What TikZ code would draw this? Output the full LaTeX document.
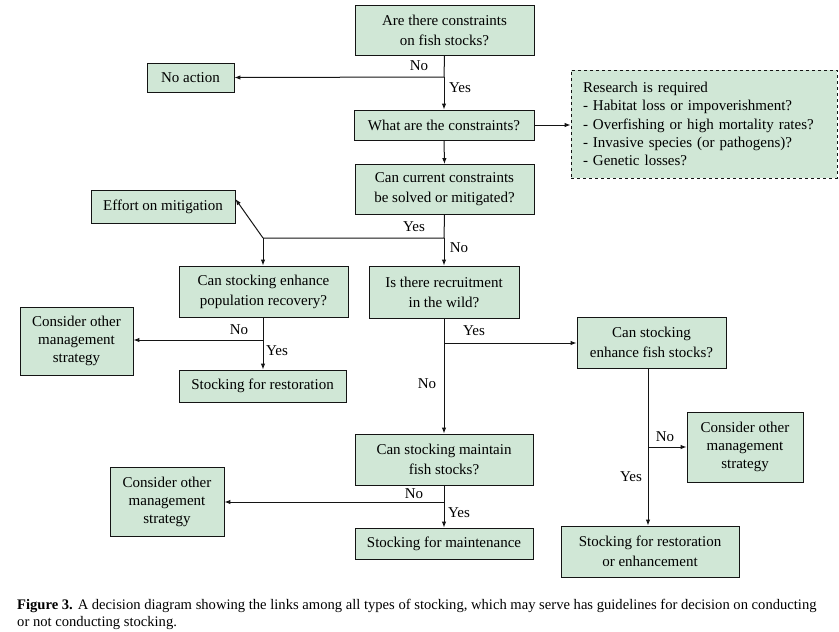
\documentclass[tikz,border=0pt]{standalone}
\usepackage{fontspec}
\setmainfont{Liberation Serif}
\usetikzlibrary{arrows.meta, calc}
\definecolor{boxGreen}{RGB}{208, 231, 214}
\definecolor{lineDark}{RGB}{20, 20, 20}

\begin{document}
\begin{tikzpicture}[
    x=1pt, y=-1pt,
    font=\fontsize{15}{20}\selectfont,
    >={Latex[length=6pt,width=4.5pt]},
    box/.style={
        draw=lineDark,
        fill=boxGreen,
        rectangle,
        line width=0.9pt,
        inner sep=2pt,
        align=center
    },
    notebox/.style={
        draw=lineDark,
        fill=boxGreen,
        rectangle,
        dashed,
        line width=0.8pt,
        inner xsep=12pt,
        align=left,
        font=\fontsize{15}{18.3}\selectfont
    },
    answer/.style={
        font=\fontsize{15}{16}\selectfont,
        inner sep=1pt
    },
    arrow/.style={
        draw=lineDark,
        ->,
        line width=1pt
    },
    link/.style={
        draw=lineDark,
        line width=1pt
    }
]
\useasboundingbox (0,0) rectangle (839,632);

% ================= TOP =================
\node[box, minimum width=179, minimum height=50] (q1) at (444.5,30.5) {Are there constraints\\on fish stocks?};
\node[box, minimum width=87, minimum height=29] (noact) at (190.5,77.5) {No action};
\node[box, minimum width=180, minimum height=30] (q2) at (444,125) {What are the constraints?};
\node[notebox, minimum width=266, minimum height=108, text width=242] (research) at (704,124)
    {Research is required\\- Habitat loss or impoverishment?\\- Overfishing or high mortality rates?\\- Invasive species (or pathogens)?\\- Genetic losses?};
\node[box, minimum width=179, minimum height=50] (q3) at (444.5,189.5) {Can current constraints\\be solved or mitigated?};
\node[box, minimum width=144, minimum height=33] (effort) at (163,206.5) {Effort on mitigation};

\coordinate (j1) at (444,77);
\draw[link] (q1.south) -- (j1);
\draw[arrow] (j1) -- (q2.north);
\draw[arrow] (j1) -- (noact.east);
\node[answer] (l1) at (419,66) {No};
\node[answer] (l2) at (460,88) {Yes};

\draw[arrow] (q2.east) -- (research.west |- q2.east);
\draw[arrow] (q2.south) -- (q3.north);

% ================= MIDDLE =================
\node[box, minimum width=169, minimum height=51] (q4) at (263.5,291.5) {Can stocking enhance\\population recovery?};
\node[box, minimum width=150, minimum height=52] (q5) at (444,292) {Is there recruitment\\in the wild?};
\node[box, minimum width=113, minimum height=68, font=\fontsize{15}{18}\selectfont] (other1) at (76.5,341) {Consider other\\management\\strategy};
\node[box, minimum width=167, minimum height=32] (restore) at (262.5,386) {Stocking for restoration};
\node[box, minimum width=149, minimum height=51] (q6) at (651.5,342.5) {Can stocking\\enhance fish stocks?};
\node[box, minimum width=116, minimum height=70, font=\fontsize{15}{18}\selectfont] (other2) at (745,447) {Consider other\\management\\strategy};

\coordinate (j2) at (444,238);
\coordinate (j3) at (263,238);
\draw[link] (q3.south) -- (j2) -- (j3);
\draw[arrow] (j2) -- (q5.north);
\draw[arrow] (j3) -- (q4.north -| j3);
\draw[arrow] (j3) -- (effort.east |- 0,199);
\node[answer] (l3) at (414,227) {Yes};
\node[answer] (l4) at (459,248) {No};

\coordinate (j4) at (263,340);
\draw[link] (q4.south -| j4) -- (j4);
\draw[arrow] (j4) -- (restore.north -| j4);
\draw[arrow] (j4) -- (other1.east |- j4);
\node[answer] (l5) at (239,330) {No};
\node[answer] (l6) at (277,351) {Yes};

% ================= BOTTOM =================
\node[box, minimum width=178, minimum height=51] (q7) at (444,459.5) {Can stocking maintain\\fish stocks?};
\node[box, minimum width=114, minimum height=69, font=\fontsize{15}{18}\selectfont] (other3) at (167,501.5) {Consider other\\management\\strategy};
\node[box, minimum width=178, minimum height=31] (maintain) at (444,543.5) {Stocking for maintenance};
\node[box, minimum width=178, minimum height=51] (enhance) at (650,551.5) {Stocking for restoration\\or enhancement};

\coordinate (j5) at (444,343);
\draw[link] (q5.south) -- (j5);
\draw[arrow] (j5) -- (q6.west |- j5);
\draw[arrow] (j5) -- (q7.north);
\node[answer] (l7) at (474,331) {Yes};
\node[answer] (l8) at (427,384) {No};

\coordinate (j6) at (648,447);
\draw[link] (q6.south -| j6) -- (j6);
\draw[arrow] (j6) -- (enhance.north -| j6);
\draw[arrow] (j6) -- (other2.west |- j6);
\node[answer] (l9) at (665,437) {No};
\node[answer] (l10) at (631,477) {Yes};

\coordinate (j7) at (444,502);
\draw[link] (q7.south) -- (j7);
\draw[arrow] (j7) -- (maintain.north);
\draw[arrow] (j7) -- (other3.east |- j7);
\node[answer] (l11) at (414,494) {No};
\node[answer] (l12) at (459,513) {Yes};

% ================= CAPTION =================
\node[anchor=north west, align=left, inner sep=0pt, font=\fontsize{14.6}{17}\selectfont] (caption) at (17,599)
    {\textbf{Figure 3.} A decision diagram showing the links among all types of stocking, which may serve has guidelines for decision on conducting\\or not conducting stocking.};

\end{tikzpicture}
\end{document}
